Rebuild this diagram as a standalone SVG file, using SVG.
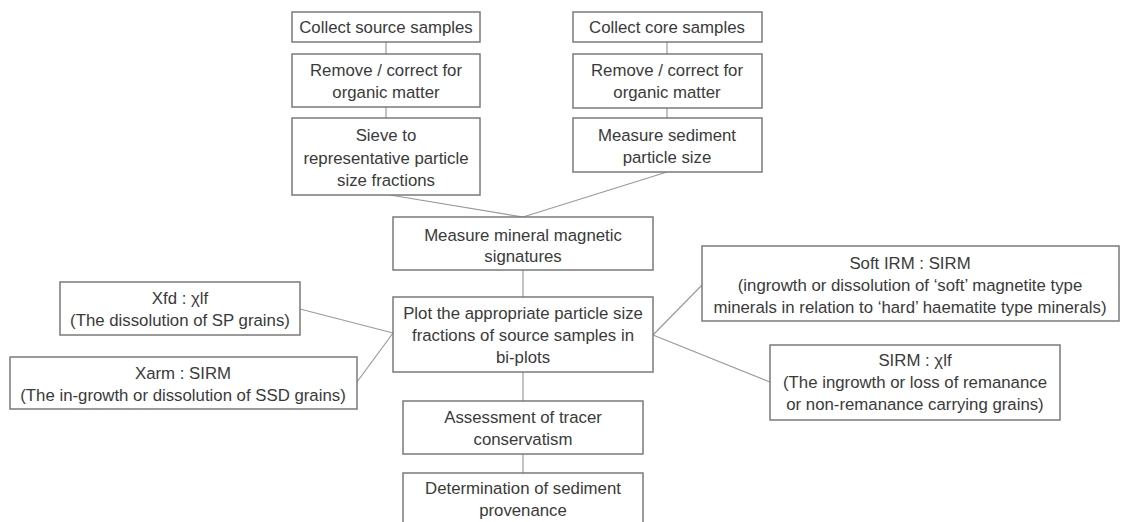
<svg xmlns="http://www.w3.org/2000/svg" width="1121" height="522" viewBox="0 0 1121 522">
<style>
.box{fill:#ffffff;stroke:#7a7a7a;stroke-width:1.5}
.t{font-family:"Liberation Sans",Arial,sans-serif;font-size:16.8px;fill:#3a3a3a;text-anchor:middle}
.c{stroke:#9a9a9a;stroke-width:1.2;fill:none}
</style>
<rect width="1121" height="522" fill="#ffffff"/>
<g id="connectors">
<line class="c" x1="386" y1="42" x2="386" y2="54"/>
<line class="c" x1="386" y1="107" x2="386" y2="118"/>
<line class="c" x1="667" y1="42" x2="667" y2="54"/>
<line class="c" x1="667" y1="108" x2="667" y2="118"/>
<line class="c" x1="390" y1="195" x2="523" y2="217"/>
<line class="c" x1="667" y1="172" x2="523" y2="217"/>
<line class="c" x1="523" y1="270" x2="523" y2="297"/>
<line class="c" x1="523" y1="372" x2="523" y2="401"/>
<line class="c" x1="523" y1="454" x2="523" y2="473"/>
<line class="c" x1="300" y1="309" x2="393" y2="333"/>
<line class="c" x1="357" y1="382" x2="393" y2="333"/>
<line class="c" x1="653" y1="335" x2="702" y2="285"/>
<line class="c" x1="653" y1="335" x2="770" y2="382"/>
</g>
<g id="collect-source">
<rect class="box" x="292" y="12" width="188" height="30"/>
<text class="t" x="386" y="33">Collect source samples</text>
</g>
<g id="remove-source">
<rect class="box" x="292" y="54" width="188" height="53"/>
<text class="t" x="386" y="76">Remove / correct for</text>
<text class="t" x="386" y="98">organic matter</text>
</g>
<g id="sieve">
<rect class="box" x="292" y="118" width="188" height="77"/>
<text class="t" x="386" y="141">Sieve to</text>
<text class="t" x="386" y="164">representative particle</text>
<text class="t" x="386" y="186">size fractions</text>
</g>
<g id="collect-core">
<rect class="box" x="573" y="12" width="189" height="30"/>
<text class="t" x="667" y="33">Collect core samples</text>
</g>
<g id="remove-core">
<rect class="box" x="573" y="54" width="189" height="54"/>
<text class="t" x="667" y="76">Remove / correct for</text>
<text class="t" x="667" y="98">organic matter</text>
</g>
<g id="measure-size">
<rect class="box" x="573" y="118" width="189" height="54"/>
<text class="t" x="667" y="141">Measure sediment</text>
<text class="t" x="667" y="163">particle size</text>
</g>
<g id="measure-mineral">
<rect class="box" x="393" y="217" width="260" height="53"/>
<text class="t" x="523" y="241">Measure mineral magnetic</text>
<text class="t" x="523" y="262">signatures</text>
</g>
<g id="plot">
<rect class="box" x="393" y="297" width="260" height="75"/>
<text class="t" x="523" y="319">Plot the appropriate particle size</text>
<text class="t" x="523" y="341">fractions of source samples in</text>
<text class="t" x="523" y="363">bi-plots</text>
</g>
<g id="assessment">
<rect class="box" x="403" y="401" width="240" height="53"/>
<text class="t" x="523" y="423">Assessment of tracer</text>
<text class="t" x="523" y="445">conservatism</text>
</g>
<g id="determination">
<rect class="box" x="403" y="473" width="240" height="60"/>
<text class="t" x="523" y="494">Determination of sediment</text>
<text class="t" x="523" y="516">provenance</text>
</g>
<g id="xfd">
<rect class="box" x="60" y="282" width="240" height="53"/>
<text class="t" x="180" y="304">Xfd : χlf</text>
<text class="t" x="180" y="326">(The dissolution of SP grains)</text>
</g>
<g id="xarm">
<rect class="box" x="10" y="357" width="347" height="52"/>
<text class="t" x="183" y="379">Xarm : SIRM</text>
<text class="t" x="183" y="401">(The in-growth or dissolution of SSD grains)</text>
</g>
<g id="softirm">
<rect class="box" x="702" y="246" width="417" height="75"/>
<text class="t" x="910" y="269">Soft IRM : SIRM</text>
<text class="t" x="910" y="291">(ingrowth or dissolution of ‘soft’ magnetite type</text>
<text class="t" x="910" y="313">minerals in relation to ‘hard’  haematite type minerals)</text>
</g>
<g id="sirm">
<rect class="box" x="770" y="345" width="290" height="75"/>
<text class="t" x="915" y="366">SIRM : χlf</text>
<text class="t" x="915" y="388">(The ingrowth or loss of remanance</text>
<text class="t" x="915" y="410">or non-remanance carrying grains)</text>
</g>
</svg>
